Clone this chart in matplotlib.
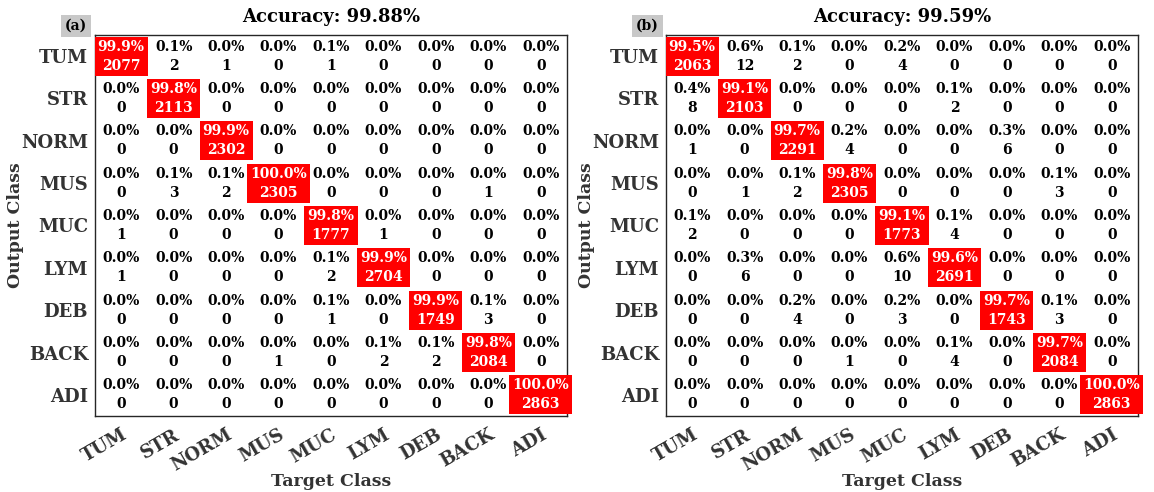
import numpy as np
import matplotlib
matplotlib.use("Agg")
import matplotlib.pyplot as plt

classes = ["TUM", "STR", "NORM", "MUS", "MUC", "LYM", "DEB", "BACK", "ADI"]

# rows = output (predicted) class, columns = target (true) class
counts_a = np.array([
    [2077, 2, 1, 0, 1, 0, 0, 0, 0],
    [0, 2113, 0, 0, 0, 0, 0, 0, 0],
    [0, 0, 2302, 0, 0, 0, 0, 0, 0],
    [0, 3, 2, 2305, 0, 0, 0, 1, 0],
    [1, 0, 0, 0, 1777, 1, 0, 0, 0],
    [1, 0, 0, 0, 2, 2704, 0, 0, 0],
    [0, 0, 0, 0, 1, 0, 1749, 3, 0],
    [0, 0, 0, 1, 0, 2, 2, 2084, 0],
    [0, 0, 0, 0, 0, 0, 0, 0, 2863],
])

counts_b = np.array([
    [2063, 12, 2, 0, 4, 0, 0, 0, 0],
    [8, 2103, 0, 0, 0, 2, 0, 0, 0],
    [1, 0, 2291, 4, 0, 0, 6, 0, 0],
    [0, 1, 2, 2305, 0, 0, 0, 3, 0],
    [2, 0, 0, 0, 1773, 4, 0, 0, 0],
    [0, 6, 0, 0, 10, 2691, 0, 0, 0],
    [0, 0, 4, 0, 3, 0, 1743, 3, 0],
    [0, 0, 0, 1, 0, 4, 0, 2084, 0],
    [0, 0, 0, 0, 0, 0, 0, 0, 2863],
])

panel_labels = ["(a)", "(b)"]

FONT = "DejaVu Serif"
LABEL_COLOR = "#333333"

fig = plt.figure(figsize=(11.54, 4.92), dpi=100)
fig.patch.set_facecolor("white")

axes_pos = [
    [95 / 1154, 76 / 492, 472 / 1154, 381 / 492],
    [666 / 1154, 76 / 492, 472 / 1154, 381 / 492],
]


def draw_confusion(ax, counts, tag):
    n = len(classes)
    col_tot = counts.sum(axis=0)
    pct = 100.0 * counts / col_tot[None, :]
    acc = 100.0 * np.trace(counts) / counts.sum()

    ax.set_xlim(-0.5, n - 0.5)
    ax.set_ylim(n - 0.5, -0.5)
    ax.set_facecolor("white")

    for i in range(n):
        for j in range(n):
            label = f"{pct[i, j]:.1f}%\n{counts[i, j]}"
            if i == j:
                ax.text(j, i, label, ha="center", va="center", fontsize=10,
                        fontweight="bold", family=FONT, color="white",
                        linespacing=1.45, zorder=3,
                        bbox=dict(boxstyle="square,pad=0.22", fc="#ff0000",
                                  ec="none"))
            else:
                ax.text(j, i, label, ha="center", va="center", fontsize=10,
                        fontweight="bold", family=FONT, color="black",
                        linespacing=1.45, zorder=3)

    ax.set_xticks(range(n))
    ax.set_yticks(range(n))
    ax.set_xticklabels(classes, rotation=30, ha="right", va="top",
                       rotation_mode="anchor", fontsize=13,
                       fontweight="bold", family=FONT, color=LABEL_COLOR)
    ax.set_yticklabels(classes, fontsize=13, fontweight="bold", family=FONT,
                       color=LABEL_COLOR)
    ax.tick_params(axis="both", length=0)
    ax.tick_params(axis="x", pad=7)
    ax.tick_params(axis="y", pad=5)
    for s in ax.spines.values():
        s.set_color("#262626")
        s.set_linewidth(1.0)
        s.set_zorder(2)

    ax.set_title(f"Accuracy: {acc:.2f}%", fontsize=13, fontweight="bold",
                 family=FONT, color="black", pad=9)
    ax.set_xlabel("Target Class", fontsize=12.5, fontweight="bold",
                  family=FONT, color=LABEL_COLOR)
    ax.xaxis.set_label_coords(0.5, -0.150)
    ax.set_ylabel("Output Class", fontsize=12.5, fontweight="bold",
                  family=FONT, color=LABEL_COLOR)
    ax.yaxis.set_label_coords(-0.150, 0.5)

    ax.text(-0.040, 1.0236, tag, transform=ax.transAxes, ha="center",
            va="center", fontsize=10, fontweight="bold", family=FONT,
            color="black",
            bbox=dict(boxstyle="square,pad=0.3", fc="#c8c8c8", ec="none"))


for pos, counts, tag in zip(axes_pos, [counts_a, counts_b], panel_labels):
    ax = fig.add_axes(pos)
    draw_confusion(ax, counts, tag)

fig.savefig("out.png", dpi=100, facecolor="white")
